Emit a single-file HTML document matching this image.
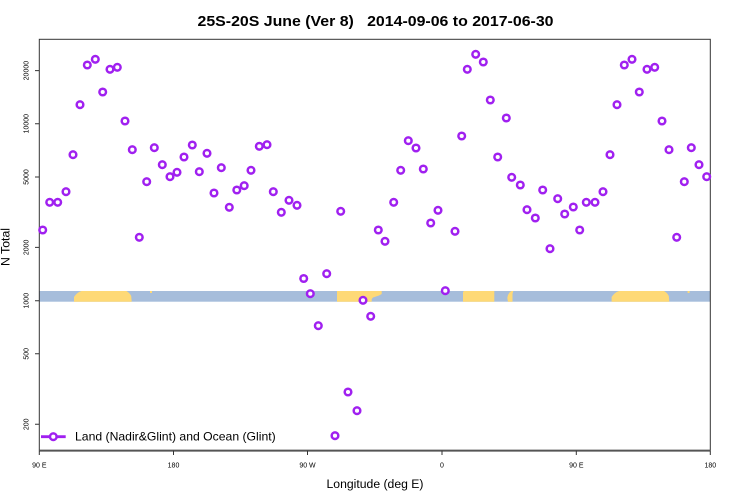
<!DOCTYPE html>
<html>
<head>
<meta charset="utf-8">
<style>
  html, body { margin:0; padding:0; background:#fff; }
  svg { display:block; }
  text { font-family: "Liberation Sans", "DejaVu Sans", sans-serif; fill:#000; }
</style>
</head>
<body>
<svg width="750" height="500" viewBox="0 0 750 500" xmlns="http://www.w3.org/2000/svg">
  <defs>
    <marker id="m" markerWidth="12" markerHeight="12" refX="6" refY="6" markerUnits="userSpaceOnUse" overflow="visible">
      <circle cx="6" cy="6" r="3.3" fill="#fff" stroke="#a020f0" stroke-width="2.5"/>
    </marker>
  </defs>
  <rect x="0" y="0" width="750" height="500" fill="#fff"/>

  <text x="375.5" y="26" font-size="15" font-weight="bold" text-anchor="middle" textLength="356" lengthAdjust="spacingAndGlyphs" xml:space="preserve">25S-20S June (Ver 8)   2014-09-06 to 2017-06-30</text>

  <rect x="39.3" y="291" width="671" height="10.7" fill="#a6bddb"/>
  <g fill="#fed976">
    <polygon points="74,301.7 74,297 75.5,295 77,293.5 79,292 81.5,291 126.5,291 128.5,292.5 130,294 131.2,296 131.7,301.7"/>
    <polygon points="611.6,301.7 611.6,297 613.1,295 614.6,293.5 616.6,292 619.1,291 664.1,291 666.1,292.5 667.6,294 668.8,296 669.3,301.7"/>
    <polygon points="337,301.7 337,291 381.7,291 381.7,294 379,295.5 376,296.5 373,297.5 371.7,299 371.7,301.7"/>
    <polygon points="463,301.7 463,292 464,291 494.3,291 494.3,301.7"/>
    <polygon points="508,301.7 507.3,298 508,295 509.5,292.5 511.5,291 513.3,291 512.5,294 512.5,301.7"/>
    <rect x="150" y="291" width="2" height="2"/>
    <rect x="687.6" y="291" width="2" height="2"/>
  </g>

  <rect x="39.3" y="39.3" width="671" height="411" fill="none" stroke="#333" stroke-width="1"/>
  <line x1="39.3" y1="450.7" x2="710.3" y2="450.7" stroke="#555" stroke-width="1.8"/>

  <path d="M35 70.6H39.3M35 123.7H39.3M35 177H39.3M35 247.4H39.3M35 300.7H39.3M35 353.8H39.3M35 424.3H39.3" stroke="#333" stroke-width="1"/>
  <g font-size="7" text-anchor="middle">
    <text transform="translate(28.3,70.6) rotate(-90)">20000</text>
    <text transform="translate(28.3,123.7) rotate(-90)">10000</text>
    <text transform="translate(28.3,177) rotate(-90)">5000</text>
    <text transform="translate(28.3,247.4) rotate(-90)">2000</text>
    <text transform="translate(28.3,300.7) rotate(-90)">1000</text>
    <text transform="translate(28.3,353.8) rotate(-90)">500</text>
    <text transform="translate(28.3,424.3) rotate(-90)">200</text>
  </g>

  <path d="M39.3 450.7V455M173.5 450.7V455M307.5 450.7V455M442 450.7V455M576.3 450.7V455M710.3 450.7V455" stroke="#333" stroke-width="1"/>
  <g font-size="7" text-anchor="middle">
    <text x="39.3" y="467.7">90 E</text>
    <text x="173.5" y="467.7">180</text>
    <text x="307.5" y="467.7">90 W</text>
    <text x="442" y="467.7">0</text>
    <text x="576.3" y="467.7">90 E</text>
    <text x="710.3" y="467.7">180</text>
  </g>

  <text x="375" y="488" font-size="12.3" text-anchor="middle" textLength="97" lengthAdjust="spacingAndGlyphs">Longitude (deg E)</text>
  <text transform="translate(9.5,247) rotate(-90)" font-size="12.3" text-anchor="middle">N Total</text>

  <polyline fill="none" stroke="none" marker-start="url(#m)" marker-mid="url(#m)" marker-end="url(#m)" points="
42.7,230 49.7,202.3 57.7,202.3 66,191.7 73,154.7 80,104.7 87.3,65 95.3,59.3 102.7,92 110,69.3
117.3,67.3 125,121 132.3,149.7 139.3,237.3 146.7,181.7 154.3,147.7 162.3,164.7 170,176.7 177,172.3 184,157
192.3,145 199.3,171.7 207,153.3 214,193 221.3,167.7 229.3,207.3 236.8,190 244.2,185.7 251,170.3 259.3,146.3
267,144.7 273.3,191.7 281.3,212.3 289,200.3 297,205.3 303.7,278.5 310.3,293.7 318.3,325.7 326.7,273.7 335,435.7
340.7,211.3 348,392 357,410.7 363,300.3 370.7,316.3 378.3,230 385,241.3 393.7,202.3 400.7,170.3 408.3,140.7
416,148 423.3,169 430.7,223 438,210.3 445.3,290.7 455,231.3 461.7,136 467.3,69.3 475.7,54.3 483.3,62
490.3,100 497.7,157 506.3,118 511.7,177.3 520.3,185 527,209.7 535.3,218 542.7,190 550,248.7 557.7,198.7
564.7,214 573.3,207 579.7,230 586.3,202.3 595,202.3 603,191.7 610,154.7 617,104.7 624.3,65 632,59.3
639.3,92 647,69.3 654.7,67.3 662,121 669,149.7 676.7,237.3 684.3,181.7 691.3,147.7 699,164.7 706.7,176.7"/>

  <line x1="41" y1="436.7" x2="65.7" y2="436.7" stroke="#a020f0" stroke-width="2.8"/>
  <circle cx="53.3" cy="436.7" r="3.3" fill="#fff" stroke="#a020f0" stroke-width="2.5"/>
  <text x="75" y="440.7" font-size="12" textLength="200.7" lengthAdjust="spacingAndGlyphs">Land (Nadir&amp;Glint) and Ocean (Glint)</text>
</svg>
</body>
</html>
